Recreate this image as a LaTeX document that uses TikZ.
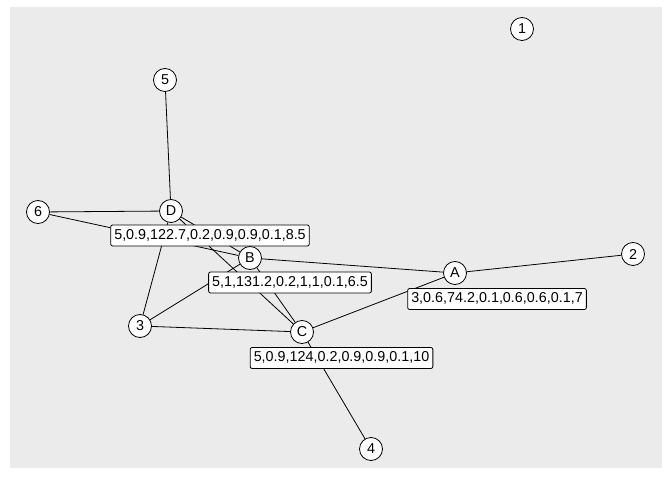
\documentclass[tikz,border=0pt]{standalone}
\usepackage{fontspec}
\setmainfont{Liberation Sans}
\pgfdeclarelayer{panel}
\pgfdeclarelayer{edges}
\pgfsetlayers{panel,edges,main}
\begin{document}
\begin{tikzpicture}[x=1bp,y=-1bp,
  vtx/.style={circle,draw=black,fill=white,line width=0.8bp,minimum size=23bp,inner sep=0pt,font=\fontsize{14.4}{16}\selectfont},
  elab/.style={draw=black,fill=white,rounded corners=2bp,line width=0.8bp,inner xsep=3.6bp,inner ysep=0pt,minimum height=21bp,text height=10.3bp,text depth=2.8bp,font=\fontsize{14.4}{16}\selectfont},
  edge/.style={draw=black,line width=0.8bp}]
\useasboundingbox (0,0) rectangle (672,480);
\begin{pgfonlayer}{panel}
\fill[white] (0,0) rectangle (672,480);
\fill[fill={rgb,255:red,235;green,235;blue,235}] (10,7) rectangle (662,468);
\end{pgfonlayer}
% nodes
\node[vtx] (n1) at (522,29) {1};
\node[vtx] (n2) at (633,254) {2};
\node[vtx] (n3) at (140,326) {3};
\node[vtx] (n4) at (371,449) {4};
\node[vtx] (n5) at (165,80) {5};
\node[vtx] (n6) at (38,212) {6};
\node[vtx] (nA) at (455,273) {A};
\node[vtx] (nB) at (250,258) {B};
\node[vtx] (nC) at (302,332) {C};
\node[vtx] (nD) at (171,211) {D};
% edges
\begin{pgfonlayer}{edges}
\path[edge] (n5) -- (nD);
\path[edge] (n6) -- (nD);
\path[edge] (n6) -- (nB);
\path[edge] (nD) -- (nB);
\path[edge] (nD) -- (nC);
\path[edge] (nD) -- (n3);
\path[edge] (nB) -- (n3);
\path[edge] (nB) -- (nC);
\path[edge] (nB) -- (nA);
\path[edge] (n3) -- (nC);
\path[edge] (nC) -- (nA);
\path[edge] (nA) -- (n2);
\path[edge] (nC) -- (n4);
\end{pgfonlayer}
% labels
\node[elab] (lD) at (210,235.5) {5,0.9,122.7,0.2,0.9,0.9,0.1,8.5};
\node[elab] (lB) at (290,282.5) {5,1,131.2,0.2,1,1,0.1,6.5};
\node[elab] (lA) at (497,299) {3,0.6,74.2,0.1,0.6,0.6,0.1,7};
\node[elab] (lC) at (341.5,358) {5,0.9,124,0.2,0.9,0.9,0.1,10};
\end{tikzpicture}
\end{document}
